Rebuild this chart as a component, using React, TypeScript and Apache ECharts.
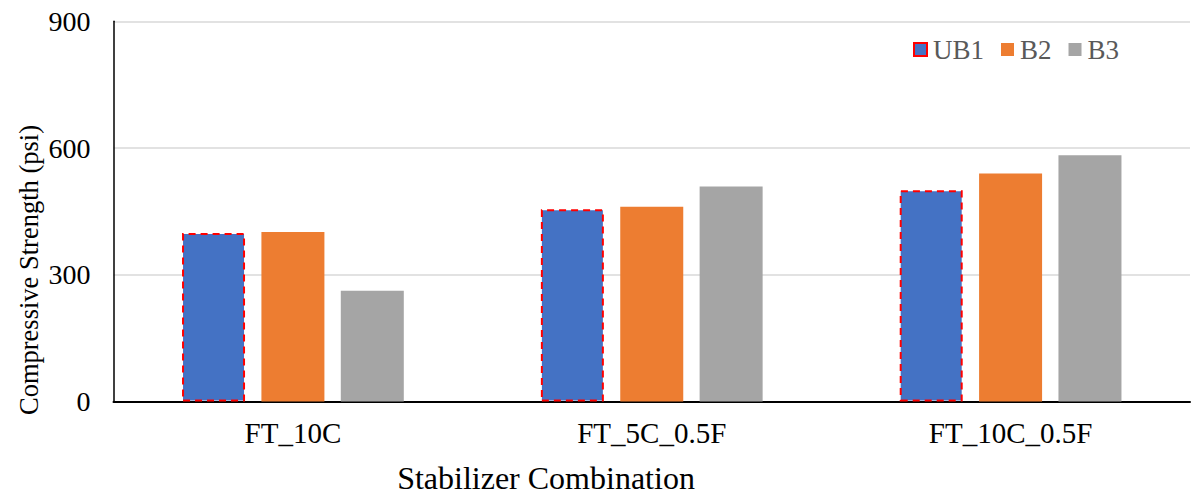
import React, { useEffect, useRef } from "react";
import * as echarts from "echarts";

const categories = ["FT_10C", "FT_5C_0.5F", "FT_10C_0.5F"];
const seriesNames = ["UB1", "B2", "B3"];
const ub1Values = [399, 455, 500];
const b2Values = [401, 461, 540];
const b3Values = [262, 509, 583];
const yTicks = [0, 300, 600, 900];

const FONT = "Liberation Serif";

export default function App() {
  const ref = useRef<HTMLDivElement>(null);

  useEffect(() => {
    if (!ref.current) return;
    const chart = echarts.init(ref.current, null, { renderer: "svg" });
    const values = [ub1Values, b2Values, b3Values];
    const colors = ["#4472C4", "#ED7D31", "#A5A5A5"];

    chart.setOption({
      animation: false,
      textStyle: { fontFamily: FONT },
      grid: { left: 113.5, right: 3, top: 21.3, bottom: 97.5, containLabel: false },
      legend: {
        data: seriesNames,
        left: 908,
        top: 31,
        icon: "rect",
        itemWidth: 13,
        itemHeight: 13,
        itemGap: 17,
        itemStyle: { borderWidth: 2 },
        textStyle: { fontFamily: FONT, fontSize: 27, color: "#595959", padding: [0, 0, 0, 1] },
      },
      xAxis: {
        type: "category",
        data: categories,
        axisLine: { show: true, lineStyle: { color: "#000", width: 2 } },
        axisTick: { show: false },
        axisLabel: { fontFamily: FONT, fontSize: 29, color: "#000", margin: 17 },
      },
      yAxis: {
        type: "value",
        min: yTicks[0],
        max: yTicks[yTicks.length - 1],
        interval: yTicks[1] - yTicks[0],
        axisLine: { show: true, lineStyle: { color: "#000", width: 1.5 } },
        axisTick: { show: false },
        axisLabel: { fontFamily: FONT, fontSize: 28, color: "#000", margin: 23 },
        splitLine: { lineStyle: { color: "#D9D9D9", width: 1.5 } },
      },
      graphic: [
        {
          type: "text",
          x: 29,
          y: 270,
          rotation: Math.PI / 2,
          style: {
            text: "Compressive Strength (psi)",
            fontFamily: FONT,
            fontSize: 26.5,
            fill: "#000",
            align: "center",
            verticalAlign: "middle",
          },
        },
        {
          type: "text",
          x: 546,
          y: 478,
          style: {
            text: "Stabilizer Combination",
            fontFamily: FONT,
            fontSize: 32,
            fill: "#000",
            align: "center",
            verticalAlign: "middle",
          },
        },
      ],
      series: seriesNames.map((name, i) => ({
        name,
        type: "bar",
        data: values[i],
        barWidth: 63,
        barGap: "26%",
        itemStyle:
          i === 0
            ? { color: colors[i], borderColor: "#FF0000", borderWidth: 2, borderType: [7, 5] }
            : { color: colors[i] },
      })),
    });

    return () => chart.dispose();
  }, []);

  return (
    <div
      ref={ref}
      style={{ position: "fixed", left: 0, top: 0, width: 1193, height: 499, background: "#fff" }}
    />
  );
}
